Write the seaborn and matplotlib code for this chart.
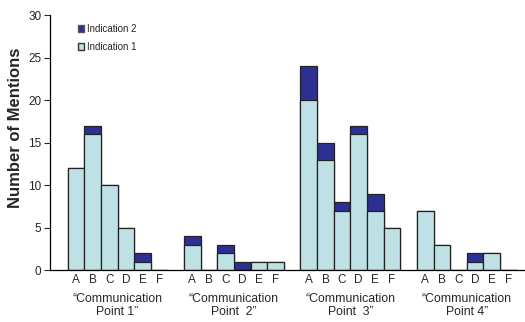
import numpy as np
import pandas as pd
import matplotlib
matplotlib.use("Agg")
import matplotlib.pyplot as plt
import matplotlib.patches as mpatches
import seaborn as sns

letters = ["A", "B", "C", "D", "E", "F"]
groups = ["\u201cCommunication\nPoint 1\u201d", "\u201cCommunication\nPoint  2\u201d",
          "\u201cCommunication\nPoint  3\u201d", "\u201cCommunication\nPoint 4\u201d"]
ind1 = [12, 16, 10, 5, 1, 0,
        3, 0, 2, 0, 1, 1,
        20, 13, 7, 16, 7, 5,
        7, 3, 0, 1, 2, 0]
ind2 = [0, 1, 0, 0, 1, 0,
        1, 0, 1, 1, 0, 0,
        4, 2, 1, 1, 2, 0,
        0, 0, 0, 1, 0, 0]

light = "#BDE1E4"
dark = "#2E2F93"

pos = [g * 7 + i for g in range(len(groups)) for i in range(len(letters))]
df = pd.DataFrame({"pos": pos, "ind1": ind1, "ind2": ind2})
df["total"] = df["ind1"] + df["ind2"]

sns.set_style("white")
plt.rcParams["font.family"] = ["Liberation Sans", "DejaVu Sans"]

fig = plt.figure(figsize=(5.25, 3.22), dpi=100)
ax = fig.add_axes([0.095, 0.161, 0.905, 0.792])

sns.barplot(data=df, x="pos", y="total", native_scale=True, width=1,
            color=dark, saturation=1, edgecolor="#222222", linewidth=0.9, ax=ax)
sns.barplot(data=df, x="pos", y="ind1", native_scale=True, width=1,
            color=light, saturation=1, edgecolor="#222222", linewidth=0.9, ax=ax)

ax.set_xlim(-1.57, 27.0)
ax.set_ylim(0, 30)
ax.set_yticks(range(0, 31, 5))
ax.set_xticks(pos)
ax.set_xticklabels(letters * len(groups))
ax.tick_params(axis="x", length=0, pad=3, labelsize=8.5)
ax.tick_params(axis="y", length=4, width=0.8, direction="out", left=True, pad=2, labelsize=8.5)
ax.set_xlabel("")
ax.set_ylabel("Number of Mentions", fontsize=12, fontweight="bold")
ax.yaxis.set_label_coords(-0.057, 0.56)

for s in ["top", "right"]:
    ax.spines[s].set_visible(False)
for s in ["left", "bottom"]:
    ax.spines[s].set_color("black")
    ax.spines[s].set_linewidth(0.9)

trans = ax.get_xaxis_transform()
for g, name in enumerate(groups):
    ax.text(g * 7 + 2.5, -0.09, name, transform=trans, ha="center", va="top",
            fontsize=8.8, linespacing=1.1)

handles = [mpatches.Patch(facecolor=dark, edgecolor="#555555", label="Indication 2"),
           mpatches.Patch(facecolor=light, edgecolor="#333333", label="Indication 1")]
ax.legend(handles=handles, loc="upper left", bbox_to_anchor=(0.04, 1.0), frameon=False,
          fontsize=7, handlelength=0.7, handleheight=0.7, handletextpad=0.3,
          labelspacing=0.8)

fig.savefig("out.png", dpi=100)
